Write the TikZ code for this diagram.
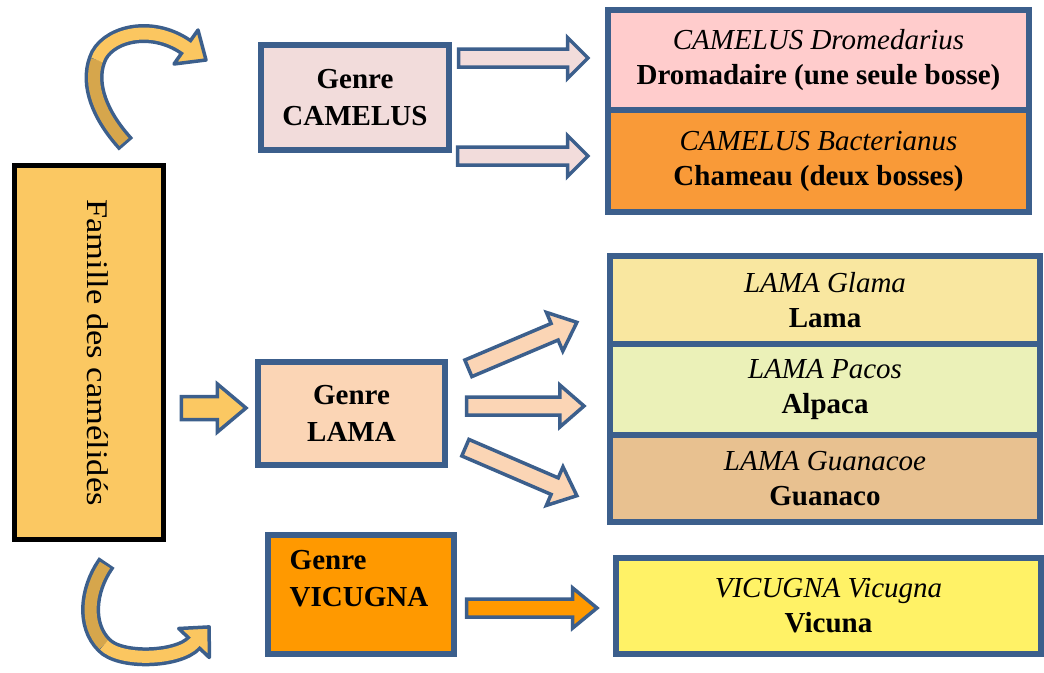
\documentclass[tikz,border=0pt]{standalone}
\usepackage{fontspec}
\setmainfont{Liberation Serif}
\usetikzlibrary{shapes.arrows,calc}
\definecolor{bblue}{RGB}{60,95,140}
\definecolor{famfill}{RGB}{251,200,98}
\definecolor{camfill}{RGB}{242,220,219}
\definecolor{dromfill}{RGB}{255,204,204}
\definecolor{chamfill}{RGB}{249,154,56}
\definecolor{lamfill}{RGB}{251,213,181}
\definecolor{glamafill}{RGB}{249,231,160}
\definecolor{pacosfill}{RGB}{235,241,184}
\definecolor{guanfill}{RGB}{232,193,144}
\definecolor{vicfill}{RGB}{255,153,0}
\definecolor{vicsfill}{RGB}{255,242,102}
\definecolor{cdark}{RGB}{214,166,76}
\definecolor{clight}{RGB}{251,198,96}
\tikzset{
  genrebox/.style={draw=bblue, line width=5.5, rectangle, inner sep=0pt, align=center,
    font=\fontsize{29}{37}\selectfont\bfseries},
  specbox/.style={draw=bblue, line width=5.5, rectangle, inner sep=0pt, align=center,
    font=\fontsize{29}{35}\selectfont},
  barrow/.style n args={4}{% fill, shaft half width, head extend, tip angle
    to path={let \p1=(\tikztostart), \p2=(\tikztotarget),
      \n1={atan2(\y2-\y1,\x2-\x1)}, \n2={veclen(\x2-\x1,\y2-\y1)} in
      node[single arrow, draw=bblue, line width=3.5, fill=#1, inner xsep=0pt,
        inner ysep=#2, single arrow head extend=#3, single arrow tip angle=#4,
        minimum height=\n2, rotate=\n1, anchor=tail] at (\p1) {}}},
  curvout/.style={draw=bblue, line width=19},
  curvin/.style={line width=12},
  curvhead/.style={fill=clight, draw=bblue, line width=3.5, line join=round}
}
\begin{document}
\begin{tikzpicture}[x=1pt,y=-1pt]
\useasboundingbox (0,0) rectangle (1044,672);

% curved arrows
\draw[curvout] (126,144.3) -- (124,142) .. controls (100,115) and (88,85) .. (97,60)
  .. controls (105,35) and (150,22) .. (186,47);
\draw[curvhead] (198,30) -- (206,60) -- (174,64) -- cycle;
\draw[curvin, draw=cdark] (124,142) .. controls (100,115) and (88,85) .. (97,60);
\draw[curvin, draw=clight] (97,60) .. controls (105,35) and (150,22) .. (186,47) -- (189,49);

\draw[curvout] (106.7,562.5) -- (105,565) .. controls (88,590) and (84,625) .. (104,645)
  .. controls (120,662) and (178,660) .. (194,643);
\draw[curvhead] (209.2,626.9) -- (209.3,657.5) -- (178.7,628.5) -- cycle;
\draw[curvin, draw=cdark] (105,565) .. controls (88,590) and (84,625) .. (104,645);
\draw[curvin, draw=clight] (104,645) .. controls (120,662) and (178,660) .. (194,643) -- (196,641);

% family box
\node[draw=black, line width=5, fill=famfill, rotate=-90, minimum width=374, minimum height=149,
  inner sep=0pt, font=\fontsize{30}{36}\selectfont] (fam) at (89,352.5)
  {\scalebox{1.15}[1]{Famille des camélidés}\rule[-18pt]{0pt}{0pt}};

% genus boxes
\node[genrebox, fill=camfill, minimum width=188, minimum height=105] (cg) at (355,97.5) {Genre\\CAMELUS};
\node[genrebox, fill=lamfill, minimum width=187, minimum height=103] (lg) at (351.5,413.5) {Genre\\LAMA};
\node[genrebox, fill=vicfill, minimum width=186, minimum height=119] (vg) at (361,594.5) {};
\node[font=\fontsize{29}{37}\selectfont\bfseries, align=left, inner sep=0pt] (vgt) at (359,579) {Genre\\VICUGNA};

% species boxes
\node[specbox, fill=dromfill, minimum width=421, minimum height=100] (d1) at (818.5,60)
  {{\itshape CAMELUS Dromedarius}\\\textbf{Dromadaire (une seule bosse)}};
\node[specbox, fill=chamfill, minimum width=421, minimum height=102] (d2) at (818.5,161)
  {{\itshape CAMELUS Bacterianus}\\\textbf{Chameau (deux bosses)}};
\node[specbox, fill=glamafill, minimum width=430, minimum height=88] (l1) at (825,300)
  {{\itshape LAMA Glama}\\\textbf{Lama}};
\node[specbox, fill=pacosfill, minimum width=430, minimum height=91] (l2) at (825,389.5)
  {{\itshape LAMA Pacos}\\\textbf{Alpaca}};
\node[specbox, fill=guanfill, minimum width=430, minimum height=87] (l3) at (825,478.5)
  {{\itshape LAMA Guanacoe}\\\textbf{Guanaco}};
\node[specbox, fill=vicsfill, minimum width=425, minimum height=96] (vs) at (828.5,606)
  {{\itshape VICUGNA Vicugna}\\\textbf{Vicuna}};

% block arrows
\path ([shift={(5,-39.5)}]cg.east) to[barrow={camfill}{7.25}{11.5}{90}] ([shift={(-19,-2)}]d1.west);
\path ([shift={(4,58.5)}]cg.east) to[barrow={camfill}{7.25}{11.5}{90}] ([shift={(-19,-5)}]d2.west);
\path ([shift={(13.5,55.5)}]fam.north) to[barrow={famfill}{9.75}{12.5}{80}] ([shift={(-11,-5.5)}]lg.west);
\path ([shift={(19,-44.5)}]lg.east) to[barrow={lamfill}{7.25}{12}{82}] ([shift={(-32,23)}]l1.west);
\path ([shift={(17,-7.5)}]lg.east) to[barrow={lamfill}{7.25}{12}{82}] ([shift={(-25,16.5)}]l2.west);
\path ([shift={(16,33.5)}]lg.east) to[barrow={lamfill}{7.25}{12}{82}] ([shift={(-32,16.5)}]l3.west);
\path ([shift={(8,13.5)}]vg.east) to[barrow={vicfill}{7.25}{11}{79}] ([shift={(-18,2)}]vs.west);
\end{tikzpicture}
\end{document}
